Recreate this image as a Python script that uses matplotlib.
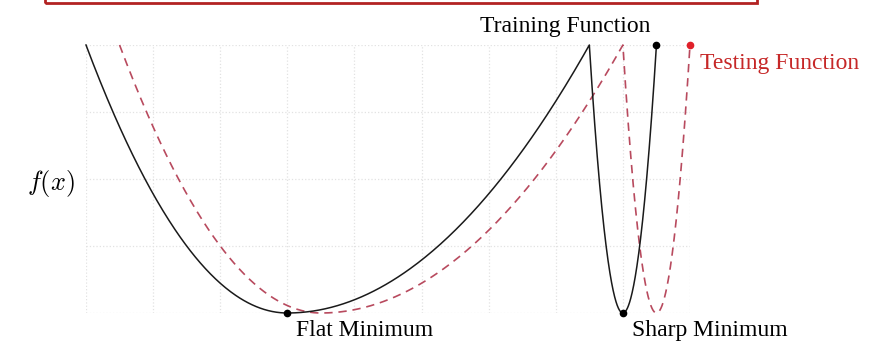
import matplotlib.pyplot as plt
import numpy as np
from matplotlib.patches import Rectangle

# Anchor points of the piecewise-parabola curves (x, f(x))
train_x = [0.0, 3.0, 7.5, 8.0, 8.5]
train_y = [4.0, 0.0, 4.0, 0.0, 4.0]
test_x = [0.5, 3.5, 8.0, 8.5, 9.0]
test_y = [4.0, 0.0, 4.0, 0.0, 4.0]

# Labels
flat_label = 'Flat Minimum'
sharp_label = 'Sharp Minimum'
train_label = 'Training Function'
test_label = 'Testing Function'


def parabola_curve(xs, ys, n=200):
    # each segment is a parabola with its vertex at the minimum point
    px, py = [], []
    for i in range(len(xs) - 1):
        x0, x1 = xs[i], xs[i + 1]
        if ys[i] < ys[i + 1]:
            vx, vy, ex, ey = x0, ys[i], x1, ys[i + 1]
        else:
            vx, vy, ex, ey = x1, ys[i + 1], x0, ys[i]
        a = (ey - vy) / (ex - vx) ** 2
        t = np.linspace(x0, x1, n)
        px.append(t)
        py.append(vy + a * (t - vx) ** 2)
    return np.concatenate(px), np.concatenate(py)


plt.rcParams['font.family'] = ['Liberation Serif', 'DejaVu Serif']
plt.rcParams['mathtext.fontset'] = 'cm'

fig = plt.figure(figsize=(8.76, 3.58), dpi=100)
ax = fig.add_axes([86 / 876, 45 / 358, 604 / 876, 268 / 358])

ax.set_xlim(0, 9)
ax.set_ylim(0, 4)
ax.set_xticks(np.arange(0, 10))
ax.set_yticks(np.arange(0, 5))
ax.grid(True, color='#e2e2e2', linestyle=':', linewidth=0.9)
ax.tick_params(length=0, labelbottom=False, pad=8)
ax.set_yticklabels(['', '', r'$f(x)$', '', ''], fontsize=19)
for s in ax.spines.values():
    s.set_visible(False)

tx, ty = parabola_curve(train_x, train_y)
ex, ey = parabola_curve(test_x, test_y)
ax.plot(ex, ey, color='#b84a5e', lw=1.2, dashes=(5, 3.5), clip_on=False)
ax.plot(tx, ty, color='#1a1a1a', lw=1.1, clip_on=False)

# markers
ax.plot(train_x[1], train_y[1], 'o', color='black', ms=4.5, clip_on=False)
ax.plot(train_x[3], train_y[3], 'o', color='black', ms=4.5, clip_on=False)
ax.plot(train_x[-1], train_y[-1], 'o', color='black', ms=4.5, clip_on=False)
ax.plot(test_x[-1], test_y[-1], 'o', color='#e0202a', ms=4.5, clip_on=False)

ax.text(train_x[1] + 0.13, -0.1, flat_label, fontsize=17, ha='left', va='top')
ax.text(train_x[3] + 0.13, -0.1, sharp_label, fontsize=17, ha='left', va='top')
ax.text(7.14, 4.12, train_label, fontsize=17, ha='center', va='bottom')
ax.text(test_x[-1] + 0.15, 3.72, test_label, fontsize=17, ha='left', va='center',
        color='#c62828')

# partial red frame at the top edge
fig.patches.append(Rectangle((45 / 876, 355 / 358), 712 / 876, 0.1,
                             transform=fig.transFigure, fill=False,
                             edgecolor='#b22222', lw=2))

fig.savefig('out.png', dpi=100)
